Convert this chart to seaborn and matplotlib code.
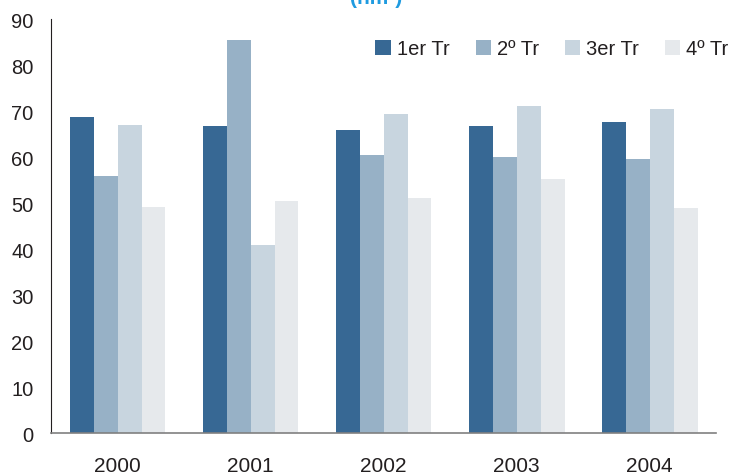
import pandas as pd
import matplotlib.pyplot as plt
import seaborn as sns

years = ["2000", "2001", "2002", "2003", "2004"]
quarters = ["1er Tr", "2º Tr", "3er Tr", "4º Tr"]
q1 = [68.7, 66.7, 65.9, 66.8, 67.6]
q2 = [55.9, 85.4, 60.5, 60.1, 59.6]
q3 = [67.0, 40.9, 69.4, 71.1, 70.5]
q4 = [49.1, 50.4, 51.0, 55.3, 49.0]
colors = ["#376894", "#97b1c6", "#c8d5df", "#e6e9ec"]

rows = []
for q, vals in zip(quarters, [q1, q2, q3, q4]):
    for y, v in zip(years, vals):
        rows.append({"Año": y, "Trimestre": q, "hm3": v})
df = pd.DataFrame(rows)

sns.set_style("white")
plt.rcParams["font.family"] = ["Liberation Sans", "DejaVu Sans"]

fig = plt.figure(figsize=(7.3, 4.77), dpi=100)
ax = fig.add_axes([0.070, 0.090, 0.911, 0.868])

sns.barplot(data=df, x="Año", y="hm3", hue="Trimestre", order=years,
            hue_order=quarters, palette=colors, width=0.72, gap=0,
            saturation=1, edgecolor="none", linewidth=0, ax=ax)

ax.set_xlim(-0.5, 4.5)
ax.set_ylim(0, 90)
ax.set_yticks(range(0, 91, 10))
ax.set_xlabel("")
ax.set_ylabel("")

# x ticks sit between the groups, labels in the middle
ax.set_xticks([i - 0.5 for i in range(6)])
ax.set_xticklabels([])
ax.set_xticks(range(5), minor=True)
ax.set_xticklabels(years, minor=True)
ax.tick_params(axis="x", which="major", length=10, width=1, color="#555555", direction="out")
ax.tick_params(axis="x", which="minor", length=0, pad=16.5, labelsize=15, labelcolor="#231f20")
ax.tick_params(axis="y", length=6, width=1, color="#333333", direction="out",
               labelsize=14.5, labelcolor="#231f20", pad=6.5)

for s in ["top", "right"]:
    ax.spines[s].set_visible(False)
ax.spines["left"].set_color("#231f20")
ax.spines["bottom"].set_color("#808080")
ax.spines["bottom"].set_linewidth(1.2)

ax.legend(ncol=4, frameon=False, loc="upper right", bbox_to_anchor=(1.046, 0.995),
          handlelength=0.75, handleheight=0.75, handletextpad=0.3,
          columnspacing=1.3, fontsize=14.5, labelcolor="#231f20")

fig.text(0.515, 1 - 4 / 477, "(hm³)", ha="center", va="baseline",
         fontsize=15, color="#1f9be0", fontweight="bold")

fig.savefig("out.png", dpi=100)
